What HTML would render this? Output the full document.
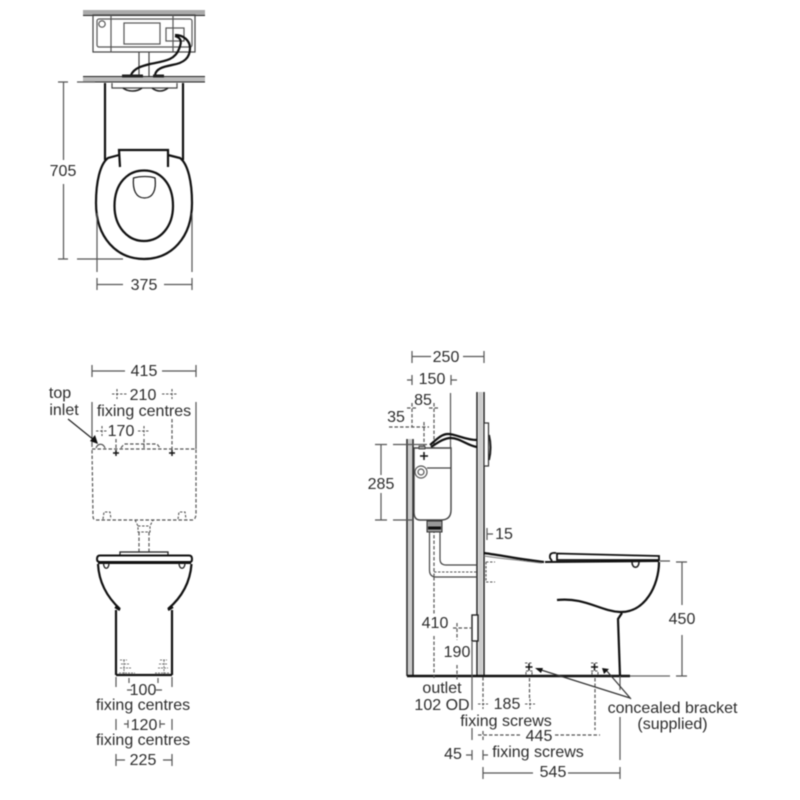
<!DOCTYPE html>
<html><head><meta charset="utf-8"><style>
html,body{margin:0;padding:0;background:#fff;width:800px;height:800px;overflow:hidden}
svg{display:block;filter:blur(.4px)}
text{font-family:"Liberation Sans",sans-serif;font-size:16px;fill:#2c2c2c;text-anchor:middle}
.d{stroke:#555;stroke-width:1.2;fill:none}
.k{stroke:#111;stroke-width:2.2;fill:none}
.m{stroke:#444;stroke-width:1.2;fill:none}
.h{stroke:#555;stroke-width:1.2;fill:none;stroke-dasharray:3.5 2}
.s{stroke:#555;stroke-width:1.1;fill:none;stroke-dasharray:2.5 1.5}
</style></head><body>
<svg width="800" height="800" viewBox="0 0 800 800" xmlns="http://www.w3.org/2000/svg">
<!-- TOP VIEW -->
<rect x="83" y="10" width="122" height="5" fill="#aaa"/><path d="M83 15.500H205" stroke="#222" stroke-width="1"/>
<rect x="93" y="15" width="102" height="37" class="m" stroke-width="1.500"/>
<rect x="97" y="19" width="95" height="28" rx="2" class="d"/>
<path d="M111 15V52M173 15V52" class="d"/>
<rect x="124" y="23" width="36" height="21" class="d"/>
<rect x="166" y="28" width="18" height="13" class="d"/>
<circle cx="102" cy="24" r="3.200" class="d"/>
<path d="M139 52V77M149 52V77" class="m"/>
<rect x="83" y="77" width="122" height="5" fill="#bbb"/><path d="M83 76.500H205M83 82H205" stroke="#222" stroke-width="1"/>
<path d="M175 36C183 38 181 44 179 49C175 60 165 61 150 64C142 66 134 68 131 75" class="k"/>
<path d="M175 35C184 35 190 41 190 48C190 58 184 63 172 65C162 67 156 69 155 75" class="k"/>
<path d="M122 76H143M153 76H164" stroke="#222" stroke-width="3"/>
<path d="M112 83V88H177V83" class="m"/>
<path d="M123 88C128 92 137 92 142 88M152 88C157 92 163 92 168 88" stroke="#222" stroke-width="1.500" fill="none"/>
<path d="M105 83V160M183 83V160" class="k"/>
<path d="M119 155L108 158C100 164 96 182 96 203C96 238 117 259 144 259C171 259 192 238 192 203C192 182 188 164 180 158L168 155" class="k"/>
<path d="M120 167L119 150H168L168 167" class="k"/>
<path d="M144 170.500C160 170.500 173 183 173 206C173 227 160 241 144 241C128 241 114.500 227 114.500 206C114.500 183 128 170.500 144 170.500Z" class="k" stroke-width="2"/>
<path d="M133.500 178C140 176 150 176 155 178C156.500 190 153 198 144.500 198C136 198 132.500 190 133.500 178Z" fill="none" stroke="#222" stroke-width="1.300"/>
<path d="M58 82H68M63.500 82V160M63.500 184V259M58 259H68M77 82H95M77 259H123" class="d"/>
<text x="63" y="176">705</text>
<path d="M97 213V272M192 213V272M97 278V290M192 278V290M97 284.500H123M164 284.500H192" class="d"/>
<text x="144" y="290">375</text>

<!-- FRONT VIEW -->
<path d="M92 365V377M196 365V377M92 371H125M162 371H196" class="d"/>
<text x="144" y="376">415</text>
<path d="M112 394H128M162 394H177M117 389V399M172 389V399" class="s"/>
<text x="143" y="400">210</text>
<text x="144" y="416">fixing centres</text>
<text x="60" y="398">top</text><text x="64" y="415">inlet</text>
<path d="M92 402V447M196 402V449" class="d"/>
<path d="M68 419L94 440" stroke="#222" stroke-width="1.200"/><path d="M98 444L90 441L95 435Z" fill="#111"/>
<path d="M96 431H107M102 426V436M138 431H150M144 426V436" class="s"/>
<text x="121" y="436">170</text>
<path d="M92 449H196V513Q196 520 192 520H96Q93 520 93 516Z" class="h"/>
<path d="M96 448C98 443 103 443 105 448" class="d"/>
<path d="M121 448L124 444H157L160 448" class="h"/>
<path d="M116 439V452M172 419V452M144 439V448" class="h"/>
<path d="M113 453H119M116 450V456M169 453H175M172 450V456" stroke="#111" stroke-width="1.400"/>
<path d="M103 519L104 512H110L111 519M178 519L179 512H185L186 519" class="s"/>
<path d="M135 520L138 526V532H150V526L153 520M138 526H150" class="s"/>
<path d="M139 532V552M149 532V552" class="h"/>
<rect x="120" y="552" width="48" height="3.500" fill="#fff" stroke="#222" stroke-width="1.300"/>
<path d="M100 555.500H189Q192 555.500 192 559Q192 562 190 562H100Q97 562 97 559Q97 555.500 100 555.500Z" fill="#fff" stroke="#111" stroke-width="2"/>
<path d="M98 563H191" stroke="#111" stroke-width="2"/>
<path d="M103.500 563C103.500 570 109 570 109 563M179 563C179 570 185 570 185 563" stroke="#222" stroke-width="1.300" fill="none"/>
<path d="M98 564C99 584 108 598 120 609M191.500 564C190 584 181 598 168 609" class="k"/>
<path d="M116 610V675M172 610V675M116 675H172" class="k"/>
<path d="M115 607L120 610M173 607L168 610" class="k" stroke-width="1.500"/>
<path d="M120 660H127M121 664H129M120 668H131M119 673H135M155 673H170M158 668H168M159 664H167M160 660H167M124 660V674M164 660V674" stroke="#777" stroke-width="1" fill="none" stroke-dasharray="2 1"/>
<path d="M116 677V687M172 677V687M129 678V683M158 678V683" class="d"/>
<path d="M127 690H132M156 690H162" class="d"/>
<text x="143" y="695">100</text>
<text x="143" y="710">fixing centres</text>
<path d="M116 719V730M172 719V730M124 724H128M160 724H165M128 720V728M160 720V728" class="d"/>
<text x="144" y="730">120</text>
<text x="143" y="745">fixing centres</text>
<path d="M116 754V766M172 754V766M116 760H125M163 760H172" class="d"/>
<text x="143" y="765">225</text>

<!-- SIDE VIEW -->
<path d="M412 351V363M484 351V363M412 356.500H431M463 356.500H484" class="d"/>
<text x="446" y="362">250</text>
<path d="M407 380H412M412 375V385M451 375V385M451 380H457" class="d"/>
<text x="432" y="384">150</text>
<text x="423" y="405">85</text>
<text x="396" y="422">35</text>
<path d="M450.500 393V448" class="d"/>
<path d="M407 408H418M412 403V427M429 408H440M434 403V576" class="h"/>
<path d="M389 427H429M424 422V447" class="h"/>
<path d="M410 439V676M480.500 392V676" stroke="#ccc" stroke-width="4"/>
<path d="M407 439V676M413 439V676M477 392V676M484 392V676" stroke="#222" stroke-width="1.500" fill="none"/>
<path d="M375 444.500H387M381 445V475M381 493V520M375 520H387M393 444.500H427M393 520H413" class="d"/>
<text x="381" y="489">285</text>
<rect x="484" y="423" width="4.500" height="43" fill="#fff" stroke="#333" stroke-width="1.200"/>
<path d="M489 435C491 443 491 452 489 460" stroke="#222" stroke-width="2" fill="none"/>
<path d="M414 448H451V510Q451 520 441 520H420Q414 520 414 512Z" fill="#fff" stroke="#444" stroke-width="1.400"/>
<path d="M427 468H451" class="m"/>
<circle cx="421" cy="472" r="6" class="d"/><circle cx="421" cy="472" r="3" class="d"/>
<path d="M424 452V460M420 456H428" stroke="#111" stroke-width="1.500"/>
<rect x="419" y="446" width="6" height="3" fill="#999" stroke="#333" stroke-width=".8"/>
<path d="M430 445C438 438 442 434 448 434C456 434 465 440 477 440" class="k"/>
<path d="M431 447C440 441 445 438 451 438C460 438 468 446 477 447" class="k"/>
<path d="M427 521H442V532H427Z" fill="#999" stroke="#333"/><path d="M428 528H441" stroke="#111" stroke-width="3"/>
<path d="M429.500 532V570Q429.500 577 436 577H477M440 532V559Q440 565 446 565H477" class="m" stroke="#666"/>
<path d="M434 572H477" class="s"/>
<path d="M487 528V540M487 534H493" class="d"/>
<text x="504" y="539">15</text>
<path d="M484 553C505 556 525 560 544 562" stroke="#111" stroke-width="2.200" fill="none"/>
<path d="M484 556C505 559 525 561 542 563" stroke="#777" stroke-width="1" fill="none"/>
<path d="M486 562H495M486 562V582M486 582H495" class="s"/>
<path d="M557 553.500L659 556V560H557Z" fill="#fff" stroke="#111" stroke-width="1.800"/>
<path d="M556 553Q549 552 550 558L552 561" stroke="#111" stroke-width="1.800" fill="#fff"/>
<path d="M545 562L659 561" stroke="#111" stroke-width="2"/>
<path d="M632 562C632 569 639 569 639 562" stroke="#222" stroke-width="1.600" fill="none"/>
<path d="M659 562C659 585 645 613 620 612C600 611 585 597 557 600" class="k"/>
<path d="M622 613L618 619L620 676" class="k"/>
<path d="M660 561H670M676 562H687M682 562V605M682 635V676M676 676H687" class="d"/>
<text x="682" y="624">450</text>
<path d="M407 676H630" stroke="#111" stroke-width="2.400"/><path d="M630 676H670" stroke="#666" stroke-width="1.200"/>
<rect x="472" y="615" width="6" height="26" fill="#fff" stroke="#222" stroke-width="1.400"/>
<path d="M472 642V710M472 728V740M472 750V760" class="d"/>
<path d="M453 628H471M457 623V640" class="h"/>
<text x="435" y="628">410</text>
<text x="457" y="657">190</text>
<path d="M434 577V615M434 636V680M457 665V680" class="h"/>
<text x="442" y="693">outlet</text>
<text x="442" y="710">102 OD</text>
<path d="M483 677V698M483 731V741" class="h"/>
<path d="M478 704H488M483 699V709M525 704H535M530 699V709" class="s"/>
<text x="507" y="709">185</text>
<text x="506" y="726">fixing screws</text>
<path d="M529.500 678V698M595 678V730" class="h"/>
<path d="M478 735H522M555 735H600" class="h"/>
<text x="539" y="741">445</text>
<text x="538" y="757">fixing screws</text>
<text x="453" y="759">45</text>
<path d="M466 755H472M483 750V760M483 755H488" class="d"/>
<path d="M483 767V779M620 767V779M483 773H533M568 773H620M620 717V760M620 676V690" class="d"/>
<text x="553" y="777">545</text>
<path d="M525 663H533M526 671H534M591 663H599M591 671H599M526 672V676M532 672V676M592 672V676M598 672V676" class="s"/>
<path d="M525.500 667H532.500M529 663.500V670.500M591 667H598M594.500 663.500V670.500" stroke="#111" stroke-width="1.500"/>
<path d="M538 669L630 698M606 670L631 699" stroke="#333" stroke-width="1.200" fill="none"/>
<path d="M535 668L543 668L541 673Z M602 668L609 669L604 674Z" fill="#111"/>
<text x="672.500" y="713">concealed bracket</text>
<text x="672.500" y="729">(supplied)</text>
</svg>
</body></html>
